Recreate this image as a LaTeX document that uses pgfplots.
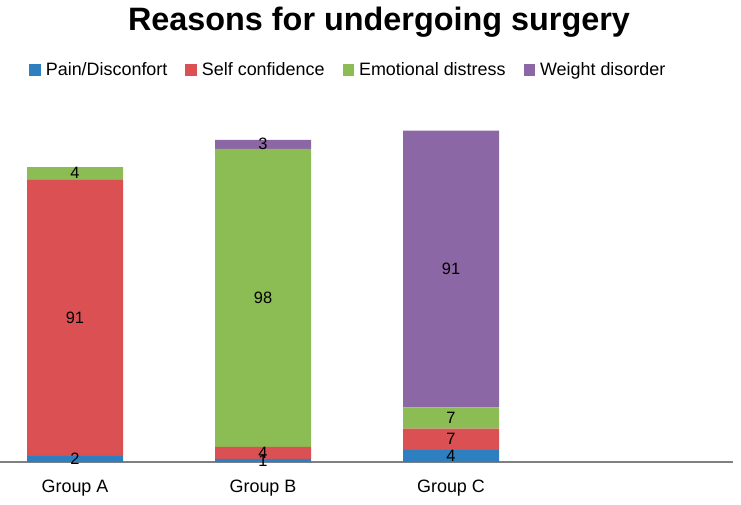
\documentclass[border=0pt]{standalone}
\usepackage{fontspec}
\setmainfont{Liberation Sans}
\usepackage{pgfplots}
\usepackage{pgfplotstable}
\pgfplotsset{compat=1.18}
\definecolor{cPain}{RGB}{46,127,192}
\definecolor{cSelf}{RGB}{219,80,82}
\definecolor{cEmo}{RGB}{140,188,84}
\definecolor{cWeight}{RGB}{140,103,165}
\definecolor{axgray}{RGB}{128,128,128}

\pgfplotstableread{
x pain self emo weight
0 2 91 4 0
1 1 4 98 3
2 4 7 7 91
}\bars

\pgfplotstableread{
x y label
0 1 2
0 47.5 91
0 95 4
1 0.5 1
1 3 4
1 54 98
1 104.5 3
2 2 4
2 7.5 7
2 14.5 7
2 63.5 91
}\labels

\begin{document}
\begin{tikzpicture}
\useasboundingbox (0,0) rectangle (741bp,505bp);
\node[font=\fontsize{32.5}{36}\selectfont\bfseries, anchor=base, inner sep=0pt] at (379bp,474bp) {Reasons for undergoing surgery};

\begin{axis}[
  at={(75bp,43bp)}, anchor=origin,
  x=188bp, y=3.04bp,
  xmin=-0.4, xmax=3.5, ymin=0, ymax=115,
  ybar stacked, bar width=96bp,
  axis y line=none,
  axis x line*=bottom,
  x axis line style={-, draw=axgray, line width=1.6bp},
  xtick={0,1,2}, xticklabels={Group A,Group B,Group C},
  major tick length=0pt,
  ytick=\empty,
  x tick label style={font=\fontsize{18}{20}\selectfont, anchor=base, yshift=-30bp},
  /pgf/number format/assume math mode=true,
  legend columns=4,
  legend style={at={(0.474,1.121)}, anchor=center, draw=none, fill=none,
    inner sep=0pt, outer sep=0pt,
    font=\fontsize{18}{20}\selectfont,
    nodes={inner sep=0pt},
    /tikz/every odd column/.append style={column sep=5bp},
    /tikz/every even column/.append style={column sep=18bp}},
  legend image code/.code={\fill[#1] (0bp,-5.5bp) rectangle (11.5bp,6bp);},
  clip=false,
]
\addplot[fill=cPain, draw=none] table[x=x, y=pain] {\bars};
\addplot[fill=cSelf, draw=none] table[x=x, y=self] {\bars};
\addplot[fill=cEmo, draw=none] table[x=x, y=emo] {\bars};
\addplot[fill=cWeight, draw=none] table[x=x, y=weight] {\bars};
\legend{Pain/Disconfort, Self confidence, Emotional distress, Weight disorder}
\end{axis}

\begin{axis}[
  at={(75bp,43bp)}, anchor=origin,
  x=188bp, y=3.04bp,
  xmin=-0.4, xmax=3.5, ymin=0, ymax=115,
  hide axis, clip=false,
]
\addplot[only marks, mark=none, nodes near coords, point meta=explicit symbolic,
  every node near coord/.append style={anchor=center, font=\fontsize{16.5}{18}\selectfont, text=black, inner sep=0pt}]
  table[x=x, y=y, meta=label] {\labels};
\end{axis}
\end{tikzpicture}
\end{document}
